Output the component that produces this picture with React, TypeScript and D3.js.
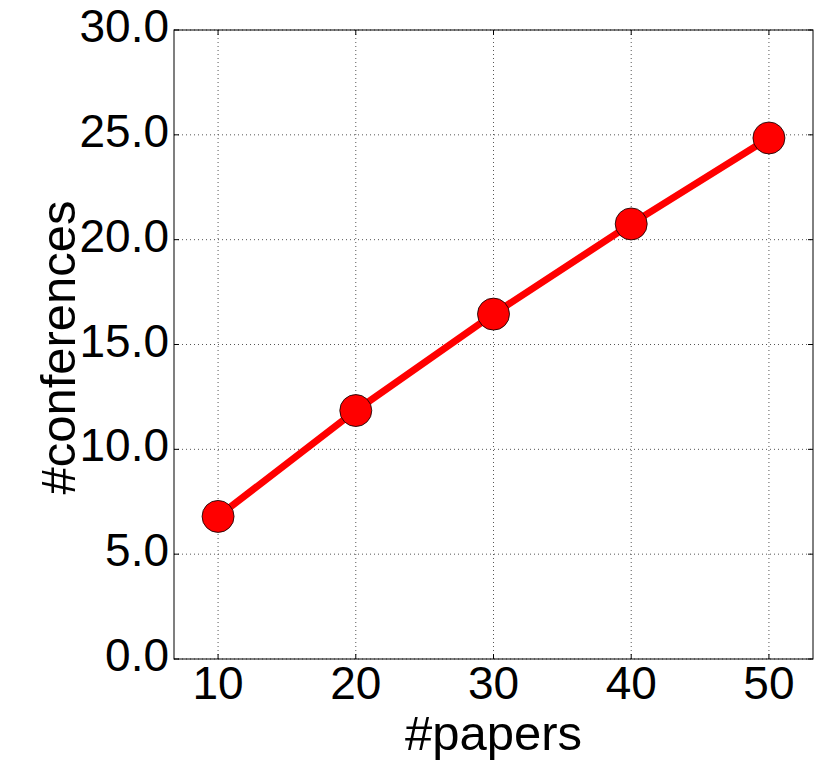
import { useRef, useEffect } from 'react'
import * as d3 from 'd3'

const PAPERS = [10, 20, 30, 40, 50]
const CONFERENCES = [6.8, 11.85, 16.45, 20.75, 24.85]
const X_TICKS = [10, 20, 30, 40, 50]
const Y_TICKS = [0, 5, 10, 15, 20, 25, 30]

export default function App() {
  const svgRef = useRef<SVGSVGElement>(null)

  useEffect(() => {
    const el = svgRef.current
    if (!el) return
    const W = 830
    const H = 767
    const pad = { l: 174, r: 17, t: 30, b: 108 }
    const font = '"Liberation Sans", Arial, sans-serif'

    const svg = d3.select(el)
    svg.selectAll('*').remove()

    const x = d3.scaleLinear().domain([6.8, 53.2]).range([pad.l, W - pad.r])
    const y = d3.scaleLinear().domain([0, 30]).range([H - pad.b, pad.t])

    // grid
    svg.selectAll('.gx').data(X_TICKS).join('line')
      .attr('x1', d => x(d)).attr('x2', d => x(d))
      .attr('y1', pad.t).attr('y2', H - pad.b)
      .attr('stroke', '#555').attr('stroke-width', 1).attr('stroke-dasharray', '1,3')
    svg.selectAll('.gy').data(Y_TICKS).join('line')
      .attr('x1', pad.l).attr('x2', W - pad.r)
      .attr('y1', d => y(d)).attr('y2', d => y(d))
      .attr('stroke', '#555').attr('stroke-width', 1).attr('stroke-dasharray', '1,3')

    // inward ticks
    X_TICKS.forEach(t => {
      svg.append('line').attr('x1', x(t)).attr('x2', x(t)).attr('y1', H - pad.b).attr('y2', H - pad.b - 5).attr('stroke', '#000')
      svg.append('line').attr('x1', x(t)).attr('x2', x(t)).attr('y1', pad.t).attr('y2', pad.t + 5).attr('stroke', '#000')
    })
    Y_TICKS.forEach(t => {
      svg.append('line').attr('x1', pad.l).attr('x2', pad.l + 5).attr('y1', y(t)).attr('y2', y(t)).attr('stroke', '#000')
      svg.append('line').attr('x1', W - pad.r).attr('x2', W - pad.r - 5).attr('y1', y(t)).attr('y2', y(t)).attr('stroke', '#000')
    })

    // frame
    svg.append('rect')
      .attr('x', pad.l).attr('y', pad.t)
      .attr('width', W - pad.r - pad.l).attr('height', H - pad.b - pad.t)
      .attr('fill', 'none').attr('stroke', '#000').attr('stroke-width', 1)

    const pts = PAPERS.map((p, i) => [p, CONFERENCES[i]] as [number, number])
    const line = d3.line<[number, number]>().x(d => x(d[0])).y(d => y(d[1]))
    svg.append('path').attr('d', line(pts) || '')
      .attr('fill', 'none').attr('stroke', '#ff0000').attr('stroke-width', 7)

    svg.selectAll('.pt').data(pts).join('circle')
      .attr('cx', d => x(d[0])).attr('cy', d => y(d[1])).attr('r', 16)
      .attr('fill', '#ff0000').attr('stroke', '#000').attr('stroke-width', 0.8)

    // tick labels
    svg.selectAll('.xl').data(X_TICKS).join('text')
      .attr('x', d => x(d)).attr('y', 699)
      .attr('text-anchor', 'middle').attr('font-size', 46).attr('font-family', font)
      .text(d => d)
    svg.selectAll('.yl').data(Y_TICKS).join('text')
      .attr('x', pad.l - 5).attr('y', d => y(d) + 12)
      .attr('text-anchor', 'end').attr('font-size', 46).attr('font-family', font)
      .text(d => d3.format('.1f')(d))

    // axis titles
    svg.append('text')
      .attr('x', (pad.l + W - pad.r) / 2).attr('y', 750)
      .attr('text-anchor', 'middle').attr('font-size', 49).attr('font-family', font)
      .text('#papers')
    svg.append('text')
      .attr('transform', `translate(75,${(pad.t + H - pad.b) / 2 + 3}) rotate(-90)`)
      .attr('text-anchor', 'middle').attr('font-size', 49).attr('font-family', font)
      .text('#conferences')
  }, [])

  return (
    <svg ref={svgRef} width={830} height={767}
      style={{ position: 'absolute', left: 0, top: 0, background: '#fff' }} />
  )
}
